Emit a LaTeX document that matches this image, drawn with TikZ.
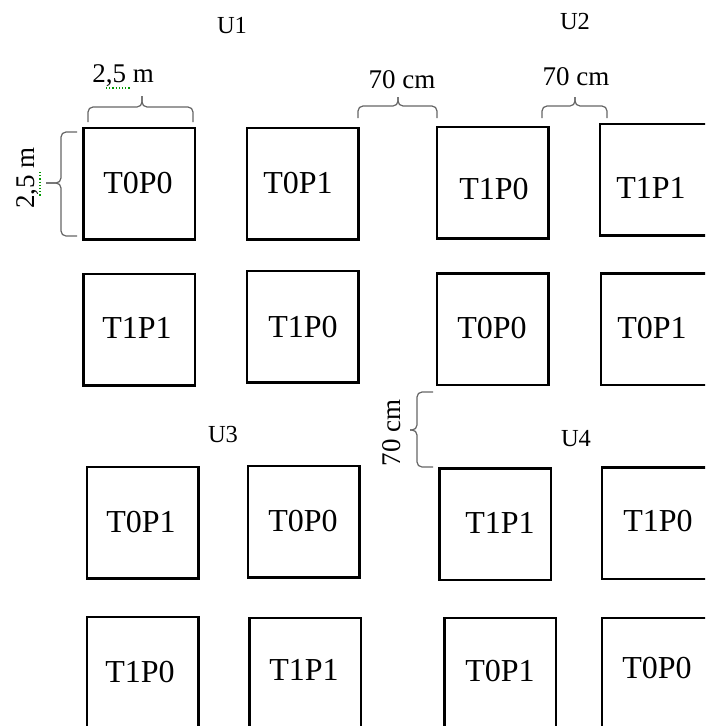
\documentclass[tikz,border=0pt]{standalone}
\usepackage{fontspec}
\setmainfont{Liberation Serif}
\tikzset{
  plotbox/.style={draw, line width=2.5pt, minimum width=111.5pt, minimum height=111.5pt, inner sep=0pt},
  tlabel/.style={font=\fontsize{32}{36}\selectfont, inner sep=0pt},
  ulabel/.style={font=\fontsize{24.5}{28}\selectfont, inner sep=0pt},
  dimlabel/.style={font=\fontsize{27}{30}\selectfont, inner sep=0pt},
  bracepath/.style={draw=black!60, line width=1.2pt, rounded corners=5pt},
  spell/.style={draw=green!60!black, dotted, line width=1.2pt}
}
\newcommand\topbrace[6]{%
  \draw[bracepath] (#1,#4) -- (#1,#5) -- (#3,#5) -- (#3,#6);
  \draw[bracepath] (#2,#4) -- (#2,#5) -- (#3,#5) -- (#3,#6);}
\newcommand\sidebrace[6]{%
  \draw[bracepath] (#4,#1) -- (#5,#1) -- (#5,#3) -- (#6,#3);
  \draw[bracepath] (#4,#2) -- (#5,#2) -- (#5,#3) -- (#6,#3);}
\begin{document}
\begin{tikzpicture}[x=1pt,y=-1pt]
\useasboundingbox (0,0) rectangle (705,726);
\clip (0,0) rectangle (705,726);
\fill[white] (0,0) rectangle (705,726);

% ---- row 1
\node[plotbox] (a1) at (139,183.5) {};
\node[plotbox] (a2) at (302.5,183.5) {};
\node[plotbox] (a3) at (492.5,182.5) {};
\node[plotbox] (a4) at (655.5,179.5) {};
\node[tlabel] (ta1) at (138,183) {T0P0};
\node[tlabel] (ta2) at (298,183) {T0P1};
\node[tlabel] (ta3) at (494,189) {T1P0};
\node[tlabel] (ta4) at (651,188) {T1P1};

% ---- row 2
\node[plotbox] (b1) at (139,329.5) {};
\node[plotbox] (b2) at (302.5,326.5) {};
\node[plotbox] (b3) at (492.5,329) {};
\node[plotbox] (b4) at (656.5,329) {};
\node[tlabel] (tb1) at (137,328) {T1P1};
\node[tlabel] (tb2) at (303,327) {T1P0};
\node[tlabel] (tb3) at (492,328) {T0P0};
\node[tlabel] (tb4) at (652,328) {T0P1};

% ---- row 3
\node[plotbox] (c1) at (142.5,522.5) {};
\node[plotbox] (c2) at (303.5,521.5) {};
\node[plotbox] (c3) at (495,524) {};
\node[plotbox] (c4) at (657.5,523) {};
\node[tlabel] (tc1) at (141,522) {T0P1};
\node[tlabel] (tc2) at (303,521) {T0P0};
\node[tlabel] (tc3) at (500,523) {T1P1};
\node[tlabel] (tc4) at (658,521) {T1P0};

% ---- row 4
\node[plotbox] (d1) at (142.5,672.5) {};
\node[plotbox] (d2) at (305,673.5) {};
\node[plotbox] (d3) at (500,673.5) {};
\node[plotbox] (d4) at (657.5,673.5) {};
\node[tlabel] (td1) at (140,672) {T1P0};
\node[tlabel] (td2) at (304,670) {T1P1};
\node[tlabel] (td3) at (500,671) {T0P1};
\node[tlabel] (td4) at (657,668) {T0P0};

% ---- block labels
\node[ulabel] (u1) at (232,26) {U1};
\node[ulabel] (u2) at (575,22) {U2};
\node[ulabel] (u3) at (223,435) {U3};
\node[ulabel] (u4) at (576,439) {U4};

% ---- dimension labels
\node[dimlabel] (dim1) at (123,76) {2,5 m};
\draw[spell] (106,88) -- (131,88);
\topbrace{88}{193}{142}{122}{107}{96}

\node[dimlabel, rotate=90] (dim2) at (28,178) {2,5 m};
\draw[spell] (40,172) -- (40,197);
\sidebrace{132}{236}{183}{77}{61}{46}

\node[dimlabel] (dim3) at (402,80) {70 cm};
\topbrace{358}{437}{398}{118}{106}{97}

\node[dimlabel] (dim4) at (576,77) {70 cm};
\topbrace{542}{607}{575}{118}{106}{97}

\node[dimlabel, rotate=90] (dim5) at (392,433) {70 cm};
\sidebrace{392}{467}{430}{433}{417}{410}
\end{tikzpicture}
\end{document}
